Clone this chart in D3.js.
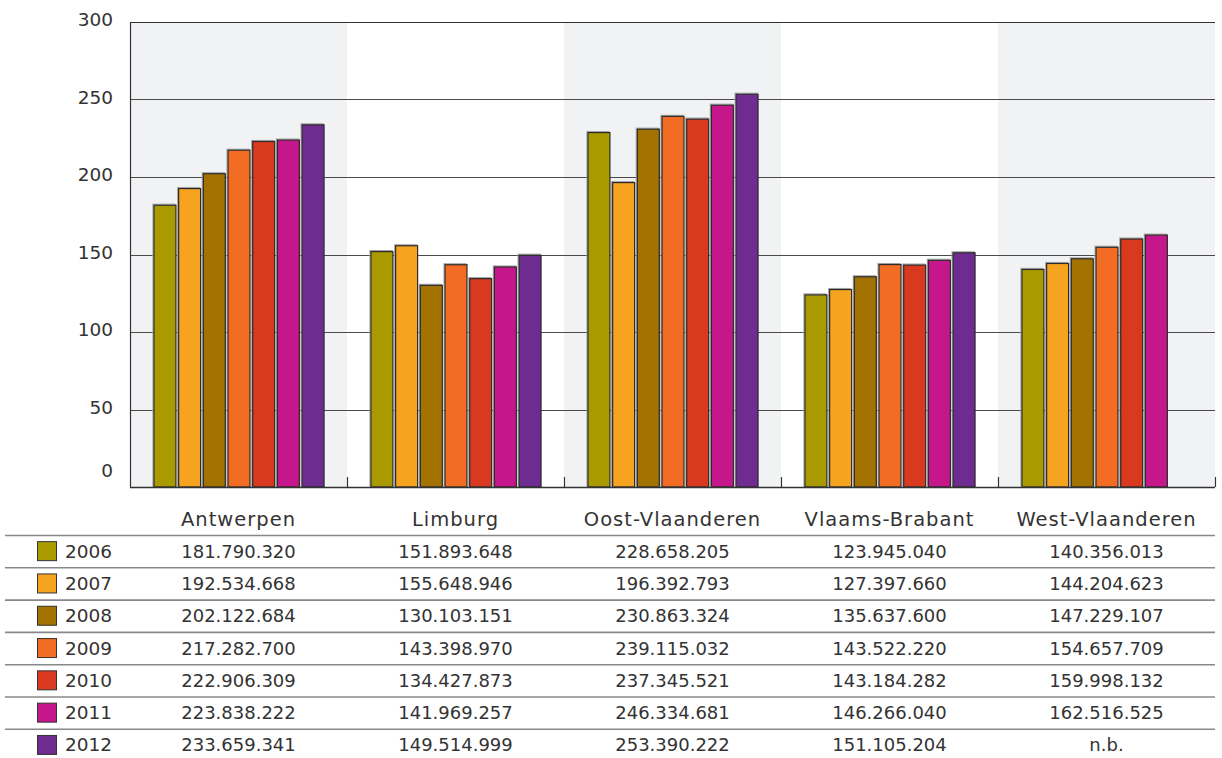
<!DOCTYPE html>
<html>
<head>
<meta charset="utf-8">
<script src="https://cdn.jsdelivr.net/npm/d3@7"></script>
<style>
  html, body { margin: 0; padding: 0; background: #fff; }
  svg { display: block; font-family: "DejaVu Sans", sans-serif; }
</style>
</head>
<body>
<svg id="chart" width="1222" height="758"></svg>
<script>
// Provinces (columns) and years (series)
const provinces = ["Antwerpen", "Limburg", "Oost-Vlaanderen", "Vlaams-Brabant", "West-Vlaanderen"];
const years = ["2006", "2007", "2008", "2009", "2010", "2011", "2012"];
const yearColors = ["#a99a00", "#f6a420", "#a47200", "#f26d23", "#d9391f", "#c5168c", "#6f2c90"];

// Amounts per year, one entry per province (null = not available)
const v2006 = [181790320, 151893648, 228658205, 123945040, 140356013];
const v2007 = [192534668, 155648946, 196392793, 127397660, 144204623];
const v2008 = [202122684, 130103151, 230863324, 135637600, 147229107];
const v2009 = [217282700, 143398970, 239115032, 143522220, 154657709];
const v2010 = [222906309, 134427873, 237345521, 143184282, 159998132];
const v2011 = [223838222, 141969257, 246334681, 146266040, 162516525];
const v2012 = [233659341, 149514999, 253390222, 151105204, null];
const yTicks = [0, 50, 100, 150, 200, 250, 300];

const seriesValues = [v2006, v2007, v2008, v2009, v2010, v2011, v2012];

const svg = d3.select("#chart");
const plotLeft = 130, plotRight = 1215, plotTop = 22, plotBottom = 487;

const x0 = d3.scaleBand().domain(provinces).range([plotLeft, plotRight]).padding(0);
const x1 = d3.scaleBand().domain(years).range([0, x0.bandwidth()])
  .paddingInner(0.11).paddingOuter(0.95);
const y = d3.scaleLinear().domain([0, 300]).range([plotBottom, plotTop]);

// Alternating shaded bands
svg.append("g").selectAll("rect")
  .data(provinces.filter((d, i) => i % 2 === 0))
  .join("rect")
  .attr("x", d => x0(d)).attr("y", plotTop)
  .attr("width", x0.bandwidth()).attr("height", plotBottom - plotTop)
  .attr("fill", "#f1f2f4");

// Horizontal gridlines
svg.append("g").selectAll("line")
  .data(yTicks.filter(t => t > 0 && t < 300))
  .join("line")
  .attr("x1", plotLeft).attr("x2", plotRight)
  .attr("y1", d => Math.round(y(d)) + 0.5).attr("y2", d => Math.round(y(d)) + 0.5)
  .attr("stroke", "#4a4a4a").attr("stroke-width", 1);

// Top border
svg.append("line")
  .attr("x1", plotLeft).attr("x2", plotRight)
  .attr("y1", plotTop + 0.5).attr("y2", plotTop + 0.5)
  .attr("stroke", "#333").attr("stroke-width", 1.2);

// Bars, with a faint grey shadow behind each one
const groups = svg.append("g").selectAll("g")
  .data(provinces)
  .join("g")
  .attr("transform", d => `translate(${x0(d)},0)`);

const barData = (p, pi) => years.map((yr, yi) => ({ yr, yi, v: seriesValues[yi][pi] })).filter(d => d.v !== null);

groups.selectAll("rect.shadow")
  .data(barData)
  .join("rect")
  .attr("class", "shadow")
  .attr("x", d => x1(d.yr) - 0.5)
  .attr("y", d => y(d.v / 1e6) - 1)
  .attr("width", x1.bandwidth())
  .attr("height", d => plotBottom - y(d.v / 1e6))
  .attr("fill", "none")
  .attr("stroke", "#a8a8a8")
  .attr("stroke-width", 1.2);

groups.selectAll("rect.bar")
  .data(barData)
  .join("rect")
  .attr("class", "bar")
  .attr("x", d => x1(d.yr) + 0.5)
  .attr("y", d => y(d.v / 1e6))
  .attr("width", x1.bandwidth())
  .attr("height", d => plotBottom - y(d.v / 1e6))
  .attr("fill", d => yearColors[d.yi])
  .attr("stroke", "#2b2b2b")
  .attr("stroke-width", 1.2);

// Left axis line and baseline
svg.append("line")
  .attr("x1", plotLeft + 0.5).attr("x2", plotLeft + 0.5)
  .attr("y1", plotTop).attr("y2", plotBottom + 1)
  .attr("stroke", "#333").attr("stroke-width", 1.2);
svg.append("line")
  .attr("x1", plotLeft).attr("x2", plotRight)
  .attr("y1", plotBottom + 0.5).attr("y2", plotBottom + 0.5)
  .attr("stroke", "#333").attr("stroke-width", 1.5);

// Category separators on baseline
svg.append("g").selectAll("line")
  .data(provinces)
  .join("line")
  .attr("x1", d => x0(d) + x0.bandwidth() + 0.5)
  .attr("x2", d => x0(d) + x0.bandwidth() + 0.5)
  .attr("y1", plotBottom - 10).attr("y2", plotBottom)
  .attr("stroke", "#333").attr("stroke-width", 1.2);

// Y tick labels (the zero label sits above the baseline)
svg.append("g").selectAll("text")
  .data(yTicks)
  .join("text")
  .attr("x", 113).attr("y", d => Math.min(y(d) - 2, plotBottom - 16))
  .attr("dy", "0.35em")
  .attr("text-anchor", "end")
  .attr("font-size", 18.5)
  .attr("fill", "#333")
  .text(d => d);

// Data table
const rowH = 32.3;
const headerY = 526;
const firstLine = 535.5;

svg.append("g").selectAll("text")
  .data(provinces)
  .join("text")
  .attr("x", d => x0(d) + x0.bandwidth() / 2)
  .attr("y", headerY)
  .attr("text-anchor", "middle")
  .attr("font-size", 19.5)
  .attr("letter-spacing", 1)
  .attr("fill", "#333")
  .text(d => d);

svg.append("g").selectAll("line")
  .data(years)
  .join("line")
  .attr("x1", 5).attr("x2", plotRight)
  .attr("y1", (d, i) => firstLine + i * rowH)
  .attr("y2", (d, i) => firstLine + i * rowH)
  .attr("stroke", "#888").attr("stroke-width", 1.6);

const fmt = v => v === null ? "n.b." : d3.format(",")(v).replace(/,/g, ".");

const rows = svg.append("g").selectAll("g")
  .data(years)
  .join("g")
  .attr("transform", (d, i) => `translate(0,${firstLine + i * rowH + rowH / 2})`);

rows.append("rect")
  .attr("x", 37.5).attr("y", -10)
  .attr("width", 19).attr("height", 19)
  .attr("fill", (d, i) => yearColors[i])
  .attr("stroke", "#333").attr("stroke-width", 1);

rows.append("text")
  .attr("x", 65).attr("y", 6)
  .attr("font-size", 18.5).attr("fill", "#333")
  .text(d => d);

rows.selectAll("text.val")
  .data((yr, yi) => provinces.map((p, pi) => ({ p, v: seriesValues[yi][pi] })))
  .join("text")
  .attr("class", "val")
  .attr("x", d => x0(d.p) + x0.bandwidth() / 2)
  .attr("y", 6)
  .attr("text-anchor", "middle")
  .attr("font-size", 18).attr("fill", "#333")
  .text(d => fmt(d.v));
</script>
</body>
</html>
